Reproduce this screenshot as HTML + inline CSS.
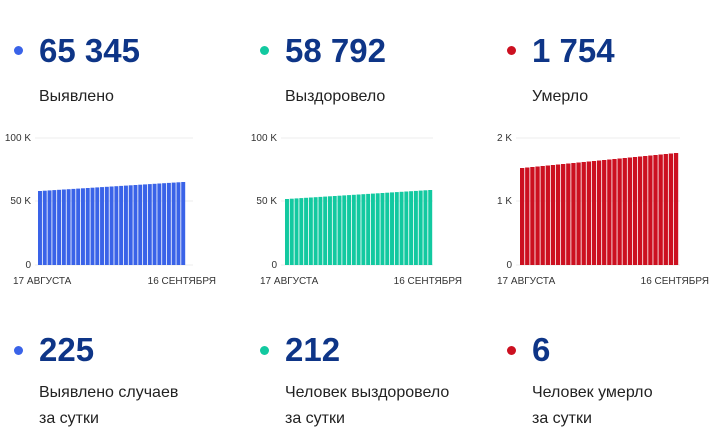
<!DOCTYPE html>
<html><head><meta charset="utf-8"><style>
body{margin:0;width:718px;height:439px;background:#fff;font-family:"Liberation Sans",Arial,sans-serif;position:relative;overflow:hidden}
.n{position:absolute;font-weight:bold;font-size:33px;color:#0e3587;line-height:1}
.d{position:absolute;width:9px;height:9px;border-radius:50%}
.l{position:absolute;font-size:16px;color:#222;line-height:26px}
svg{position:absolute;left:0;top:0}
</style></head><body>
<div class="d" style="left:14px;top:46px;background:#3a63e8"></div>
<div class="n" style="left:39px;top:34px">65 345</div>
<div class="l" style="left:39px;top:84px">Выявлено</div>
<div class="d" style="left:260px;top:46px;background:#12c9a0"></div>
<div class="n" style="left:285px;top:34px">58 792</div>
<div class="l" style="left:285px;top:84px">Выздоровело</div>
<div class="d" style="left:507px;top:46px;background:#cc1020"></div>
<div class="n" style="left:532px;top:34px">1 754</div>
<div class="l" style="left:532px;top:84px">Умерло</div>

<div class="d" style="left:14px;top:346px;background:#3a63e8"></div>
<div class="n" style="left:39px;top:333px">225</div>
<div class="l" style="left:39px;top:380px">Выявлено случаев<br>за сутки</div>
<div class="d" style="left:260px;top:346px;background:#12c9a0"></div>
<div class="n" style="left:285px;top:333px">212</div>
<div class="l" style="left:285px;top:380px">Человек выздоровело<br>за сутки</div>
<div class="d" style="left:507px;top:346px;background:#cc1020"></div>
<div class="n" style="left:532px;top:333px">6</div>
<div class="l" style="left:532px;top:380px">Человек умерло<br>за сутки</div>

<svg id="s" width="718" height="439" font-family="Liberation Sans, Arial, sans-serif" font-size="10" fill="#333"></svg>
<script>
var s=document.getElementById('s'),h='';
var C=[{x0:38,x1:186,ya:191,yb:182,c:'#3a63e8',lx:31,g:193,t:['100 K','50 K','0'],xl:13,xr:216},
{x0:285,x1:433,ya:199,yb:190,c:'#12c9a0',lx:277,g:433,t:['100 K','50 K','0'],xl:260,xr:462},
{x0:520,x1:679,ya:168,yb:153,c:'#cc1020',lx:512,g:680,t:['2 K','1 K','0'],xl:497,xr:709}];
C.forEach(function(c){
 var ys=[138,201,265];
 for(var i=0;i<3;i++){h+='<line x1="'+(c.lx+4)+'" x2="'+c.g+'" y1="'+ys[i]+'" y2="'+ys[i]+'" stroke="#ececec"/>';
 h+='<text x="'+c.lx+'" y="'+(ys[i]+3)+'" text-anchor="end">'+c.t[i]+'</text>';}
 var n=31,w=(c.x1-c.x0)/n;
 for(var j=0;j<n;j++){var x=c.x0+j*w,y=c.ya+(c.yb-c.ya)*j/(n-1);
 h+='<rect x="'+x.toFixed(2)+'" y="'+y.toFixed(2)+'" width="'+(w-0.8).toFixed(2)+'" height="'+(265-y).toFixed(2)+'" fill="'+c.c+'"/>';}
 h+='<text x="'+c.xl+'" y="284">17 АВГУСТА</text><text x="'+c.xr+'" y="284" text-anchor="end">16 СЕНТЯБРЯ</text>';
});
s.innerHTML=h;
</script>
</body></html>
